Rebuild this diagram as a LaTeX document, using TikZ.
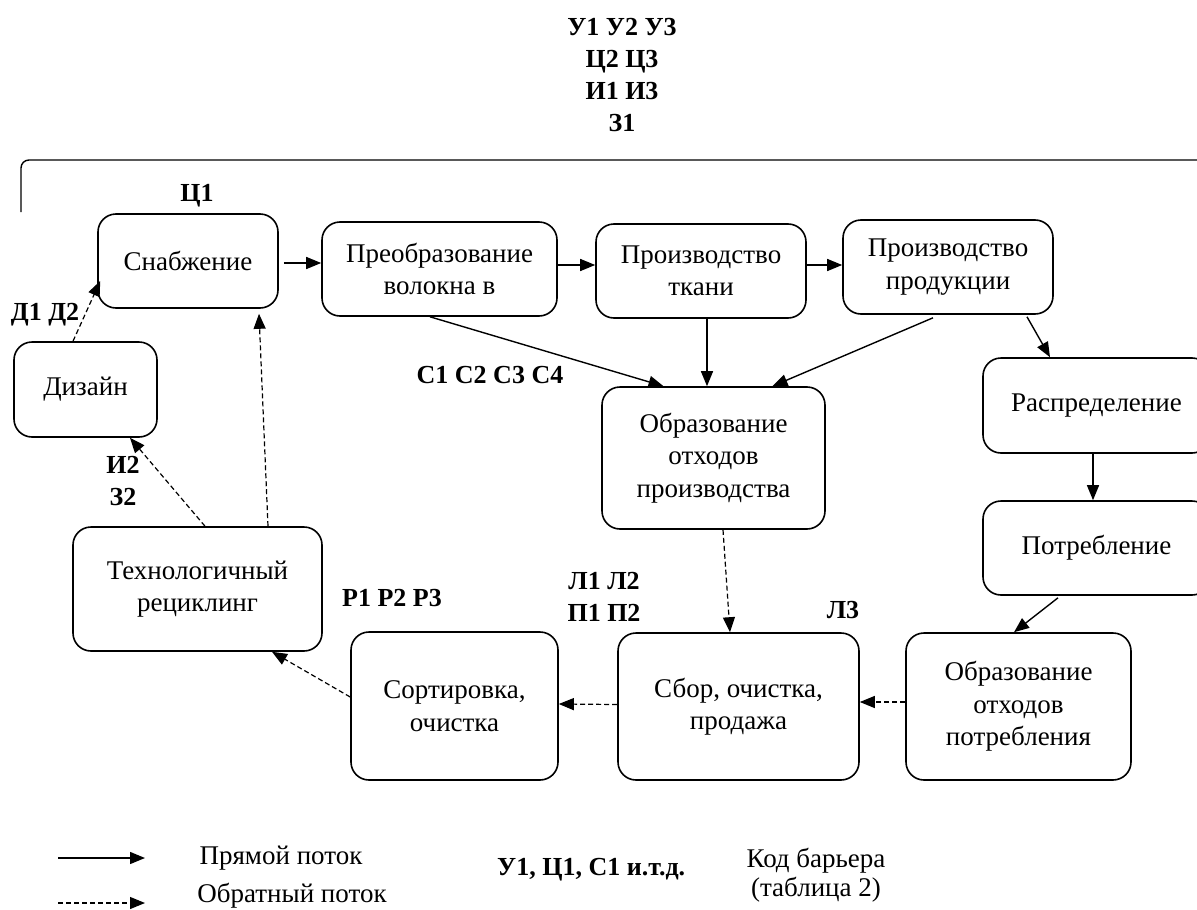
\documentclass[tikz,border=0pt]{standalone}
\usepackage{fontspec}
\setmainfont{Liberation Serif}
\usetikzlibrary{arrows.meta}

\begin{document}
\begin{tikzpicture}[x=1pt,y=-1pt,
  stage/.style={draw, line width=1.6pt, rounded corners=18pt, align=center,
    inner sep=0pt, font=\fontsize{27}{32.5}\selectfont},
  code/.style={font=\fontsize{26}{32}\selectfont\bfseries, align=center, inner sep=0pt},
  plain/.style={font=\fontsize{27}{29}\selectfont, align=center, inner sep=0pt},
  fwd/.style={line width=1.4pt, -{Triangle[length=15pt,width=12pt]}},
  rev/.style={line width=1.2pt, dash pattern=on 5pt off 3pt, -{Triangle[length=15pt,width=12pt]}}
]
\useasboundingbox (0,0) rectangle (1197,910);

% bracket over the forward chain
\coordinate (brA) at (21,212);
\coordinate (brB) at (21,160);
\coordinate (brC) at (1205,160);
\draw[line width=1.4pt, rounded corners=8pt] (brA) -- (brB) -- (brC);

% stages
\node[stage, minimum width=180pt, minimum height=94pt]  (sup)   at (188,261)    {Снабжение};
\node[stage, minimum width=235pt, minimum height=94pt]  (conv)  at (439.5,269)  {Преобразование\\волокна в};
\node[stage, minimum width=210pt, minimum height=94pt]  (fab)   at (701,271)    {Производство\\ткани};
\node[stage, minimum width=210pt, minimum height=94pt]  (prod)  at (948,267)    {Производство\\продукции};
\node[stage, minimum width=143pt, minimum height=95pt]  (des)   at (85.5,389.5) {Дизайн};
\node[stage, minimum width=223pt, minimum height=142pt] (wprod) at (713.5,458)  {Образование\\отходов\\производства};
\node[stage, minimum width=227pt, minimum height=95pt]  (dist)  at (1096.5,405.5) {Распределение};
\node[stage, minimum width=227pt, minimum height=94pt]  (cons)  at (1096.5,548) {Потребление};
\node[stage, minimum width=249pt, minimum height=124pt] (tech)  at (197.5,589)  {Технологичный\\рециклинг};
\node[stage, minimum width=207pt, minimum height=148pt] (sort)  at (454.5,706)  {Сортировка,\\очистка};
\node[stage, minimum width=241pt, minimum height=147pt] (coll)  at (738.5,706.5) {Сбор, очистка,\\продажа};
\node[stage, minimum width=225pt, minimum height=147pt] (wcons) at (1018.5,706.5) {Образование\\отходов\\потребления};

% forward flow
\draw[fwd] ([xshift=5pt,yshift=-2pt]sup.east) -- ([yshift=-2pt]conv.west |- sup.east);
\draw[fwd] ([yshift=4pt]conv.east) -- ([yshift=6pt]fab.west);
\draw[fwd] ([yshift=6pt]fab.east) -- ([yshift=2pt]prod.west);
\draw[fwd] ([xshift=-9.5pt]conv.south) -- ([xshift=-50pt]wprod.north);
\draw[fwd] ([xshift=6pt]fab.south) -- ([xshift=-6.5pt]wprod.north);
\draw[fwd] ([xshift=-15pt,yshift=-3pt]prod.south) -- ([xshift=59pt]wprod.north);
\draw[fwd] ([xshift=79pt,yshift=-2pt]prod.south) -- ([xshift=-46.5pt]dist.north);
\draw[fwd] ([xshift=-3.5pt]dist.south) -- ([xshift=-3.5pt]cons.north);
\draw[fwd] ([xshift=-38.5pt,yshift=-2pt]cons.south) -- ([xshift=-4.5pt]wcons.north);

% reverse flow
\draw[rev] ([xshift=9.5pt]wprod.south) -- ([xshift=-8.5pt]coll.north);
\draw[rev] ([yshift=4.5pt]wcons.west) -- ([yshift=4.5pt]coll.east);
\draw[rev] ([yshift=2pt]coll.west) -- ([yshift=2pt]sort.east);
\draw[rev] ([yshift=9pt]sort.west) -- ([xshift=74.5pt]tech.south);
\draw[rev] ([xshift=7.5pt]tech.north) -- ([xshift=44.5pt]des.south);
\draw[rev] ([xshift=70.5pt]tech.north) -- ([xshift=71pt,yshift=-5pt]sup.south);
\draw[rev] ([xshift=-12.5pt]des.north) -- ([xshift=3pt,yshift=-20pt]sup.west);

% barrier codes
\node[code] (cTop) at (622,75.5) {У1 У2 У3\\Ц2 Ц3\\И1 И3\\З1};
\node[code] (cC1)  at (197,196) {Ц1};
\node[code] (cD)   at (45,315)  {Д1 Д2};
\node[code] (cI2)  at (123,481) {И2\\З2};
\node[code] (cS)   at (490,375) {С1 С2 С3 С4};
\node[code] (cR)   at (392,598) {Р1 Р2 Р3};
\node[code] (cL)   at (604,597) {Л1 Л2\\П1 П2};
\node[code] (cL3)  at (843,610) {Л3};

% legend
\coordinate (lgA1) at (58,858);
\coordinate (lgB1) at (145,858);
\coordinate (lgA2) at (58,903);
\coordinate (lgB2) at (145,903);
\draw[fwd] (lgA1) -- (lgB1);
\draw[rev] (lgA2) -- (lgB2);
\node[plain] (lgT1) at (281,858) {Прямой поток};
\node[plain] (lgT2) at (292,896) {Обратный поток};
\node[code, anchor=west] (lgCode) at (497,870) {У1, Ц1, С1 и.т.д.};
\node[plain] (lgKey) at (816,875) {Код барьера\\(таблица 2)};
\end{tikzpicture}
\end{document}
